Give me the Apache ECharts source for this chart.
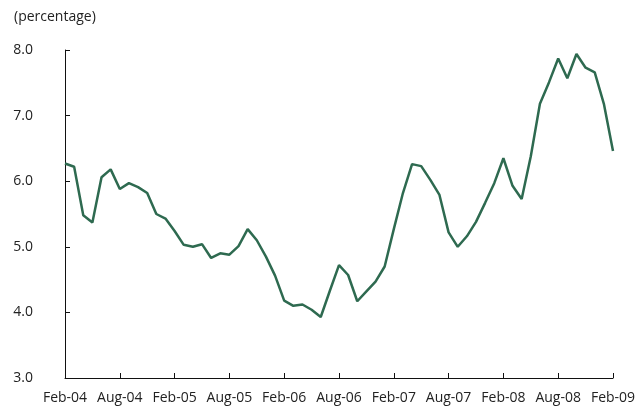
<!DOCTYPE html>
<html>
<head>
<meta charset="utf-8">
<script src="https://cdn.jsdelivr.net/npm/echarts@6/dist/echarts.min.js"></script>
<style>
  html, body { margin: 0; padding: 0; background: #fff; }
  #main { width: 639px; height: 408px; }
</style>
</head>
<body>
<div id="main"></div>
<script>
// monthly, Feb-04 .. Feb-09
var monthNames = ['Jan','Feb','Mar','Apr','May','Jun','Jul','Aug','Sep','Oct','Nov','Dec'];
var categories = [];
for (var k = 0; k <= 60; k++) {
    var m = (1 + k) % 12;
    var y = 4 + Math.floor((1 + k) / 12);
    categories.push(monthNames[m] + '-0' + y);
}

var rates = [
    6.27, 6.22, 5.48, 5.37, 6.06, 6.18, 5.88, 5.97, 5.91, 5.82, 5.50, 5.43,
    5.24, 5.03, 5.00, 5.04, 4.83, 4.90, 4.88, 5.01, 5.27, 5.10, 4.85, 4.56,
    4.18, 4.10, 4.12, 4.04, 3.93, 4.33, 4.72, 4.57, 4.17, 4.32, 4.47, 4.70,
    5.27, 5.82, 6.26, 6.23, 6.02, 5.79, 5.22, 5.00, 5.16, 5.38, 5.67, 5.97,
    6.35, 5.93, 5.73, 6.38, 7.18, 7.51, 7.87, 7.57, 7.94, 7.73, 7.66, 7.18,
    6.46
];

var yTicks = [3, 4, 5, 6, 7, 8];

var chart = echarts.init(document.getElementById('main'));
var fontFamily = 'Open Sans';
var axisColor = '#111';

var option = {
    backgroundColor: '#fff',
    animation: false,
    title: {
        text: '(percentage)',
        left: 9,
        top: 5,
        textStyle: {
            fontFamily: fontFamily,
            fontSize: 14,
            fontWeight: 'normal',
            color: '#222'
        }
    },
    grid: {
        left: 65,
        right: 26,
        top: 50,
        bottom: 30
    },
    xAxis: {
        type: 'category',
        data: categories,
        boundaryGap: false,
        axisLine: { lineStyle: { color: axisColor, width: 1 } },
        axisTick: {
            inside: true,
            length: 5,
            interval: 5,
            lineStyle: { color: axisColor }
        },
        axisLabel: {
            interval: 5,
            margin: 13,
            color: '#222',
            fontFamily: fontFamily,
            fontSize: 14
        },
        splitLine: { show: false }
    },
    yAxis: {
        type: 'value',
        min: yTicks[0],
        max: yTicks[yTicks.length - 1],
        interval: 1,
        axisLine: { show: true, lineStyle: { color: axisColor, width: 1 } },
        axisTick: {
            show: true,
            inside: true,
            length: 5,
            lineStyle: { color: axisColor }
        },
        axisLabel: {
            margin: 32,
            color: '#222',
            fontFamily: fontFamily,
            fontSize: 14,
            formatter: function (v) { return v.toFixed(1); }
        },
        splitLine: { show: false }
    },
    series: [{
        type: 'line',
        data: rates,
        symbol: 'none',
        lineStyle: { color: '#2e6a50', width: 2.5 }
    }]
};

chart.setOption(option);
</script>
</body>
</html>
